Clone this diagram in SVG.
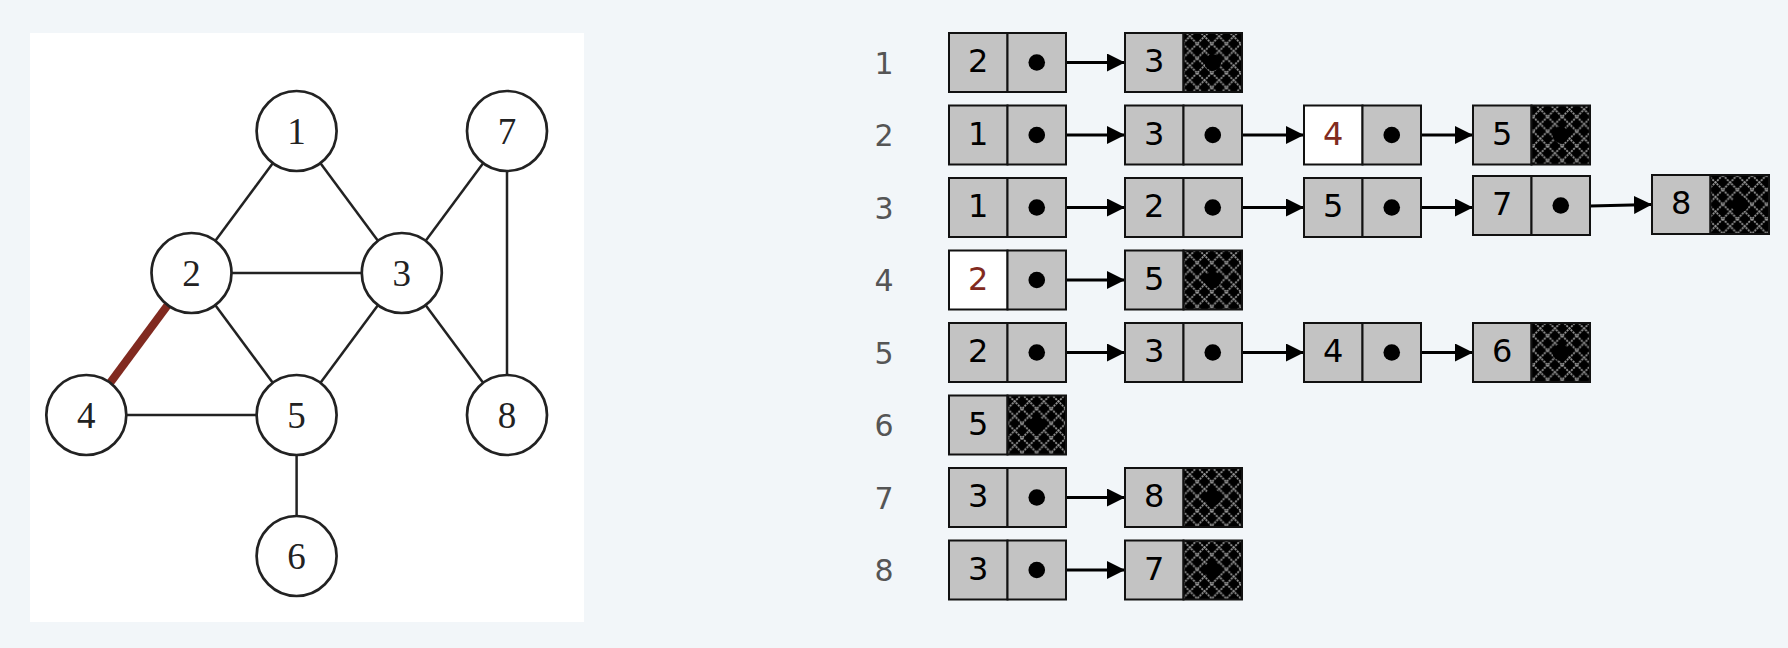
<svg xmlns="http://www.w3.org/2000/svg" width="1788" height="648" viewBox="0 0 1788 648">
<style>
.edge{stroke:#222;stroke-width:2.5;fill:none}
.red{stroke:#812a20;stroke-width:8;fill:none}
.node circle{fill:#fff;stroke:#222;stroke-width:2.7}
.node text{font-family:"Liberation Serif","DejaVu Serif",serif;font-size:37px;fill:#222;text-anchor:middle}
.c{fill:#c3c3c3;stroke:#111;stroke-width:2}
.w{fill:#fff;stroke:#111;stroke-width:2}
.n{fill:url(#hatch);stroke:#111;stroke-width:2}
.num{font-family:"DejaVu Sans","Liberation Sans",sans-serif;font-size:32px;fill:#000;text-anchor:middle}
.rn{fill:#812a20}
.lbl{font-family:"DejaVu Sans","Liberation Sans",sans-serif;font-size:30px;fill:#555;text-anchor:middle}
.ptr{stroke:#000;stroke-width:3;fill:none}
.dot{fill:#000}
</style>
<defs>
<pattern id="hatch" width="14.6" height="14.6" patternUnits="userSpaceOnUse">
<rect width="14.6" height="14.6" fill="#000"/>
<path d="M0,0 L14.6,14.6 M14.6,0 L0,14.6" stroke="#9a9a9a" stroke-width="1.8" stroke-dasharray="2 1"/>
</pattern>
<marker id="ah" viewBox="0 0 18 18" refX="18" refY="9" markerWidth="18" markerHeight="18" markerUnits="userSpaceOnUse" orient="auto">
<path d="M0,0 L18,9 L0,18 Z" fill="#000"/>
</marker>
</defs>
<rect width="1788" height="648" fill="#f2f6f9"/>
<rect x="30" y="33" width="554" height="589" fill="#fff"/>

<g id="connectors">
<line class="edge" x1="296.6" y1="131" x2="191.5" y2="273"/>
<line class="edge" x1="296.6" y1="131" x2="401.8" y2="273"/>
<line class="edge" x1="191.5" y1="273" x2="401.8" y2="273"/>
<line class="edge" x1="191.5" y1="273" x2="296.6" y2="415"/>
<line class="edge" x1="401.8" y1="273" x2="296.6" y2="415"/>
<line class="edge" x1="401.8" y1="273" x2="507" y2="131"/>
<line class="edge" x1="401.8" y1="273" x2="507" y2="415"/>
<line class="edge" x1="507" y1="131" x2="507" y2="415"/>
<line class="edge" x1="86.3" y1="415" x2="296.6" y2="415"/>
<line class="edge" x1="296.6" y1="415" x2="296.6" y2="556"/>
<line class="red" x1="191.5" y1="273" x2="86.3" y2="415"/>
</g>

<g id="node1" class="node"><circle cx="296.6" cy="131" r="40"/><text x="296.6" y="143.5">1</text></g>
<g id="node2" class="node"><circle cx="191.5" cy="273" r="40"/><text x="191.5" y="285.5">2</text></g>
<g id="node3" class="node"><circle cx="401.8" cy="273" r="40"/><text x="401.8" y="285.5">3</text></g>
<g id="node4" class="node"><circle cx="86.3" cy="415" r="40"/><text x="86.3" y="427.5">4</text></g>
<g id="node5" class="node"><circle cx="296.6" cy="415" r="40"/><text x="296.6" y="427.5">5</text></g>
<g id="node6" class="node"><circle cx="296.6" cy="556" r="40"/><text x="296.6" y="568.5">6</text></g>
<g id="node7" class="node"><circle cx="507" cy="131" r="40"/><text x="507" y="143.5">7</text></g>
<g id="node8" class="node"><circle cx="507" cy="415" r="40"/><text x="507" y="427.5">8</text></g>

<!-- adjacency lists -->
<g id="labels">
<text class="lbl" x="884" y="73.5">1</text>
<text class="lbl" x="884" y="146">2</text>
<text class="lbl" x="884" y="218.5">3</text>
<text class="lbl" x="884" y="291">4</text>
<text class="lbl" x="884" y="363.5">5</text>
<text class="lbl" x="884" y="436">6</text>
<text class="lbl" x="884" y="508.5">7</text>
<text class="lbl" x="884" y="581">8</text>
</g>

<g id="list-pointers">
<line class="ptr" x1="1036.75" y1="62.5" x2="1125" y2="62.5" marker-end="url(#ah)"/>
<line class="ptr" x1="1036.75" y1="135" x2="1125" y2="135" marker-end="url(#ah)"/>
<line class="ptr" x1="1212.75" y1="135" x2="1304" y2="135" marker-end="url(#ah)"/>
<line class="ptr" x1="1391.75" y1="135" x2="1473" y2="135" marker-end="url(#ah)"/>
<line class="ptr" x1="1036.75" y1="207.5" x2="1125" y2="207.5" marker-end="url(#ah)"/>
<line class="ptr" x1="1212.75" y1="207.5" x2="1304" y2="207.5" marker-end="url(#ah)"/>
<line class="ptr" x1="1391.75" y1="207.5" x2="1473" y2="207.5" marker-end="url(#ah)"/>
<line class="ptr" x1="1590" y1="206" x2="1652" y2="204.5" marker-end="url(#ah)"/>
<line class="ptr" x1="1036.75" y1="280" x2="1125" y2="280" marker-end="url(#ah)"/>
<line class="ptr" x1="1036.75" y1="352.5" x2="1125" y2="352.5" marker-end="url(#ah)"/>
<line class="ptr" x1="1212.75" y1="352.5" x2="1304" y2="352.5" marker-end="url(#ah)"/>
<line class="ptr" x1="1391.75" y1="352.5" x2="1473" y2="352.5" marker-end="url(#ah)"/>
<line class="ptr" x1="1036.75" y1="497.5" x2="1125" y2="497.5" marker-end="url(#ah)"/>
<line class="ptr" x1="1036.75" y1="570" x2="1125" y2="570" marker-end="url(#ah)"/>
</g>

<!-- row 1 -->
<g id="r1c1"><rect class="c" x="949" y="33" width="58.5" height="59"/><rect class="c" x="1007.5" y="33" width="58.5" height="59"/><text class="num" x="978.25" y="72">2</text><circle class="dot" cx="1036.75" cy="62.5" r="8.3"/></g>
<g id="r1c2"><rect class="c" x="1125" y="33" width="58.5" height="59"/><rect class="n" x="1183.5" y="33" width="58.5" height="59"/><text class="num" x="1154.25" y="72">3</text><circle class="dot" cx="1212.75" cy="62.5" r="8.3"/></g>
<!-- row 2 -->
<g id="r2c1"><rect class="c" x="949" y="105.5" width="58.5" height="59"/><rect class="c" x="1007.5" y="105.5" width="58.5" height="59"/><text class="num" x="978.25" y="144.5">1</text><circle class="dot" cx="1036.75" cy="135" r="8.3"/></g>
<g id="r2c2"><rect class="c" x="1125" y="105.5" width="58.5" height="59"/><rect class="c" x="1183.5" y="105.5" width="58.5" height="59"/><text class="num" x="1154.25" y="144.5">3</text><circle class="dot" cx="1212.75" cy="135" r="8.3"/></g>
<g id="r2c3"><rect class="w" x="1304" y="105.5" width="58.5" height="59"/><rect class="c" x="1362.5" y="105.5" width="58.5" height="59"/><text class="num rn" x="1333.25" y="144.5">4</text><circle class="dot" cx="1391.75" cy="135" r="8.3"/></g>
<g id="r2c4"><rect class="c" x="1473" y="105.5" width="58.5" height="59"/><rect class="n" x="1531.5" y="105.5" width="58.5" height="59"/><text class="num" x="1502.25" y="144.5">5</text><circle class="dot" cx="1560.75" cy="135" r="8.3"/></g>
<!-- row 3 -->
<g id="r3c1"><rect class="c" x="949" y="178" width="58.5" height="59"/><rect class="c" x="1007.5" y="178" width="58.5" height="59"/><text class="num" x="978.25" y="217">1</text><circle class="dot" cx="1036.75" cy="207.5" r="8.3"/></g>
<g id="r3c2"><rect class="c" x="1125" y="178" width="58.5" height="59"/><rect class="c" x="1183.5" y="178" width="58.5" height="59"/><text class="num" x="1154.25" y="217">2</text><circle class="dot" cx="1212.75" cy="207.5" r="8.3"/></g>
<g id="r3c3"><rect class="c" x="1304" y="178" width="58.5" height="59"/><rect class="c" x="1362.5" y="178" width="58.5" height="59"/><text class="num" x="1333.25" y="217">5</text><circle class="dot" cx="1391.75" cy="207.5" r="8.3"/></g>
<g id="r3c4"><rect class="c" x="1473" y="176" width="58.5" height="59"/><rect class="c" x="1531.5" y="176" width="58.5" height="59"/><text class="num" x="1502.25" y="215">7</text><circle class="dot" cx="1560.75" cy="205.5" r="8.3"/></g>
<g id="r3c5"><rect class="c" x="1652" y="175" width="58.5" height="59"/><rect class="n" x="1710.5" y="175" width="58.5" height="59"/><text class="num" x="1681.25" y="214">8</text><circle class="dot" cx="1739.75" cy="204.5" r="8.3"/></g>
<!-- row 4 -->
<g id="r4c1"><rect class="w" x="949" y="250.5" width="58.5" height="59"/><rect class="c" x="1007.5" y="250.5" width="58.5" height="59"/><text class="num rn" x="978.25" y="289.5">2</text><circle class="dot" cx="1036.75" cy="280" r="8.3"/></g>
<g id="r4c2"><rect class="c" x="1125" y="250.5" width="58.5" height="59"/><rect class="n" x="1183.5" y="250.5" width="58.5" height="59"/><text class="num" x="1154.25" y="289.5">5</text><circle class="dot" cx="1212.75" cy="280" r="8.3"/></g>
<!-- row 5 -->
<g id="r5c1"><rect class="c" x="949" y="323" width="58.5" height="59"/><rect class="c" x="1007.5" y="323" width="58.5" height="59"/><text class="num" x="978.25" y="362">2</text><circle class="dot" cx="1036.75" cy="352.5" r="8.3"/></g>
<g id="r5c2"><rect class="c" x="1125" y="323" width="58.5" height="59"/><rect class="c" x="1183.5" y="323" width="58.5" height="59"/><text class="num" x="1154.25" y="362">3</text><circle class="dot" cx="1212.75" cy="352.5" r="8.3"/></g>
<g id="r5c3"><rect class="c" x="1304" y="323" width="58.5" height="59"/><rect class="c" x="1362.5" y="323" width="58.5" height="59"/><text class="num" x="1333.25" y="362">4</text><circle class="dot" cx="1391.75" cy="352.5" r="8.3"/></g>
<g id="r5c4"><rect class="c" x="1473" y="323" width="58.5" height="59"/><rect class="n" x="1531.5" y="323" width="58.5" height="59"/><text class="num" x="1502.25" y="362">6</text><circle class="dot" cx="1560.75" cy="352.5" r="8.3"/></g>
<!-- row 6 -->
<g id="r6c1"><rect class="c" x="949" y="395.5" width="58.5" height="59"/><rect class="n" x="1007.5" y="395.5" width="58.5" height="59"/><text class="num" x="978.25" y="434.5">5</text><circle class="dot" cx="1036.75" cy="425" r="8.3"/></g>
<!-- row 7 -->
<g id="r7c1"><rect class="c" x="949" y="468" width="58.5" height="59"/><rect class="c" x="1007.5" y="468" width="58.5" height="59"/><text class="num" x="978.25" y="507">3</text><circle class="dot" cx="1036.75" cy="497.5" r="8.3"/></g>
<g id="r7c2"><rect class="c" x="1125" y="468" width="58.5" height="59"/><rect class="n" x="1183.5" y="468" width="58.5" height="59"/><text class="num" x="1154.25" y="507">8</text><circle class="dot" cx="1212.75" cy="497.5" r="8.3"/></g>
<!-- row 8 -->
<g id="r8c1"><rect class="c" x="949" y="540.5" width="58.5" height="59"/><rect class="c" x="1007.5" y="540.5" width="58.5" height="59"/><text class="num" x="978.25" y="579.5">3</text><circle class="dot" cx="1036.75" cy="570" r="8.3"/></g>
<g id="r8c2"><rect class="c" x="1125" y="540.5" width="58.5" height="59"/><rect class="n" x="1183.5" y="540.5" width="58.5" height="59"/><text class="num" x="1154.25" y="579.5">7</text><circle class="dot" cx="1212.75" cy="570" r="8.3"/></g>
</svg>
